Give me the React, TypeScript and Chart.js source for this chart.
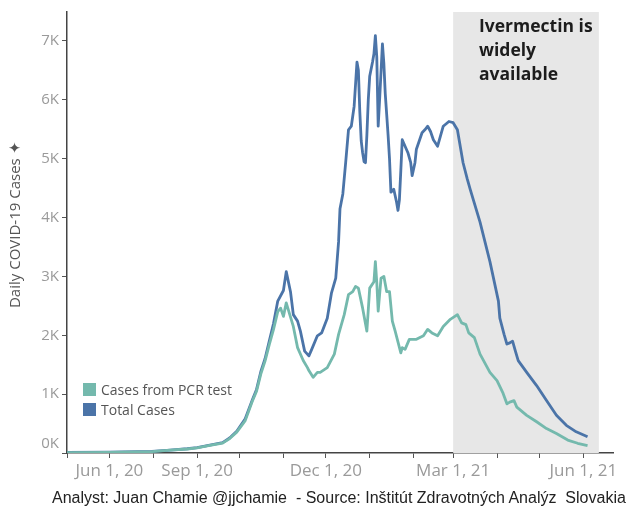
import React, { useEffect, useRef } from "react";
import { Chart, registerables } from "chart.js";

Chart.register(...registerables);

// Days counted from Jun 1, 2020
const totalDays = [0, 30, 60, 73, 85, 92, 101, 110, 115, 120, 126, 131, 134, 137, 140, 143, 146, 149, 153, 155, 158, 160, 163, 165, 168, 171, 173, 177, 180, 184, 187, 190, 192, 193, 195, 197, 199, 201, 203, 205, 206, 207, 208, 209, 210, 211, 212, 213, 214, 216, 217, 218, 219, 220, 221, 223, 224, 225, 226, 227, 228, 229, 231, 233, 234, 235, 236, 237, 239, 241, 243, 244, 246, 247, 251, 253, 255, 257, 259, 262, 264, 266, 270, 273, 276, 278, 280, 283, 285, 292, 299, 305, 306, 309, 311, 313, 315, 317, 319, 325, 332, 339, 346, 353, 360, 368];
const totalCases = [10, 15, 28, 50, 72, 92, 135, 175, 255, 370, 580, 900, 1080, 1380, 1600, 1900, 2200, 2580, 2760, 3080, 2740, 2350, 2240, 2070, 1730, 1650, 1760, 1990, 2040, 2290, 2720, 2970, 3590, 4150, 4400, 4930, 5490, 5550, 5890, 6640, 6500, 5800, 5300, 5100, 4950, 4930, 5400, 6000, 6400, 6640, 6780, 7090, 6730, 5550, 6000, 6950, 6620, 6100, 5750, 5400, 5000, 4430, 4480, 4260, 4120, 4300, 4800, 5320, 5210, 5100, 4930, 4710, 4930, 5160, 5440, 5490, 5550, 5460, 5320, 5210, 5380, 5550, 5630, 5610, 5490, 5210, 4930, 4650, 4480, 3920, 3250, 2580, 2290, 2015, 1850, 1870, 1900, 1730, 1570, 1370, 1145, 890, 640, 470, 360, 275];

const pcrDays = [0, 30, 60, 73, 85, 92, 101, 110, 115, 120, 126, 131, 134, 137, 140, 143, 146, 149, 151, 153, 155, 160, 163, 167, 170, 171, 174, 177, 179, 184, 189, 192, 196, 199, 202, 204, 206, 209, 212, 214, 217, 218, 219, 220, 222, 224, 226, 228, 230, 232, 236, 237, 239, 242, 247, 252, 255, 258, 262, 266, 271, 276, 279, 282, 284, 288, 292, 299, 304, 308, 311, 313, 316, 318, 325, 332, 339, 346, 354, 361, 368];
const pcrCases = [8, 12, 25, 48, 68, 88, 130, 168, 245, 355, 550, 880, 1050, 1340, 1560, 1840, 2100, 2400, 2460, 2320, 2550, 2150, 1790, 1570, 1450, 1400, 1285, 1370, 1370, 1450, 1680, 2015, 2350, 2690, 2740, 2830, 2800, 2460, 2070, 2800, 2910, 3250, 2900, 2410, 2970, 3000, 2740, 2740, 2240, 2070, 1700, 1790, 1760, 1930, 1930, 1990, 2100, 2040, 1990, 2150, 2270, 2350, 2210, 2180, 2040, 1960, 1680, 1370, 1230, 1030, 835, 865, 890, 780, 640, 530, 415, 330, 220, 165, 125];

const monthTickDays = [0, 30, 61, 92, 122, 153, 183, 214, 245, 273, 304, 334, 365];
const xLabelDays = [30, 92, 183, 273, 365];
const xLabels = ["Jun 1, 20", "Sep 1, 20", "Dec 1, 20", "Mar 1, 21", "Jun 1, 21"];
const yTickValues = [0, 1000, 2000, 3000, 4000, 5000, 6000, 7000];
const xMinDay = 0;
const xMaxDay = 386;
const yMaxValue = 7490;
const shadeFromDay = 273;
const shadeToDay = 376;

const seriesNames = ["Cases from PCR test", "Total Cases"];
const seriesColors = ["#74b9ad", "#4b74a8"];

const shadePlugin = {
  id: "shade",
  beforeDatasetsDraw(chart: any) {
    const { ctx, chartArea, scales } = chart;
    const x0 = scales.x.getPixelForValue(shadeFromDay);
    const x1 = scales.x.getPixelForValue(shadeToDay);
    ctx.save();
    ctx.fillStyle = "#e7e7e7";
    ctx.fillRect(x0, chartArea.top, x1 - x0, chartArea.bottom - chartArea.top);
    ctx.restore();
  },
};

export default function App() {
  const canvasRef = useRef<HTMLCanvasElement | null>(null);

  useEffect(() => {
    const canvas = canvasRef.current;
    if (!canvas) return;
    const chart = new Chart(canvas, {
      type: "line",
      data: {
        datasets: [
          {
            label: seriesNames[0],
            data: pcrDays.map((d, i) => ({ x: d, y: pcrCases[i] })),
            borderColor: seriesColors[0],
            backgroundColor: seriesColors[0],
            borderWidth: 2.8,
            pointRadius: 0,
            tension: 0,
            borderJoinStyle: "round",
          },
          {
            label: seriesNames[1],
            data: totalDays.map((d, i) => ({ x: d, y: totalCases[i] })),
            borderColor: seriesColors[1],
            backgroundColor: seriesColors[1],
            borderWidth: 2.8,
            pointRadius: 0,
            tension: 0,
            borderJoinStyle: "round",
          },
        ],
      },
      options: {
        responsive: false,
        animation: false,
        devicePixelRatio: 1,
        layout: { padding: { top: 8, right: 16, bottom: 25, left: 0 } },
        plugins: { legend: { display: false }, tooltip: { enabled: false } },
        scales: {
          x: {
            type: "linear",
            min: xMinDay,
            max: xMaxDay,
            afterBuildTicks: (s: any) => {
              s.ticks = monthTickDays.map((v) => ({ value: v }));
            },
            afterFit: (s: any) => {
              s.height = 30;
            },
            ticks: {
              autoSkip: false,
              maxRotation: 0,
              minRotation: 0,
              padding: 3,
              color: "#9a9a9a",
              font: { family: '"Open Sans"', size: 17 },
              callback: (v: any) => {
                const i = xLabelDays.indexOf(v);
                return i >= 0 ? xLabels[i] : "";
              },
            },
            grid: { drawOnChartArea: false, drawTicks: true, tickLength: 5, color: "#555", lineWidth: 1 },
            border: { display: true, color: "#444", width: 1.5 },
          },
          y: {
            min: 0,
            max: yMaxValue,
            afterBuildTicks: (s: any) => {
              s.ticks = yTickValues.map((v) => ({ value: v }));
            },
            afterFit: (s: any) => {
              s.width = 67;
            },
            ticks: {
              padding: 3,
              color: "#9a9a9a",
              font: { family: '"Open Sans"', size: 15 },
              callback: (v: any) => (v === 0 ? ["0K", ""] : v / 1000 + "K"),
            },
            grid: { drawOnChartArea: false, drawTicks: true, tickLength: 5, color: "#555", lineWidth: 1 },
            border: { display: true, color: "#444", width: 1.5 },
            title: {
              display: true,
              text: "    Daily COVID-19 Cases \u2726",
              color: "#555",
              font: { family: '"Open Sans"', size: 15 },
              padding: { top: 7, bottom: 0 },
            },
          },
        },
      },
      plugins: [shadePlugin],
    } as any);
    return () => chart.destroy();
  }, []);

  return (
    <div
      style={{
        position: "fixed",
        left: 0,
        top: 0,
        width: 629,
        height: 508,
        overflow: "hidden",
        background: "#fff",
      }}
    >
      <canvas ref={canvasRef} width={629} height={508} style={{ display: "block" }} />
      <div
        style={{
          position: "absolute",
          left: 479,
          top: 13,
          fontFamily: '"Open Sans", sans-serif',
          fontWeight: 700,
          fontSize: 17.5,
          lineHeight: "24px",
          color: "#1c1c1c",
        }}
      >
        <div>Ivermectin is</div>
        <div>widely</div>
        <div>available</div>
      </div>
      <div
        style={{
          position: "absolute",
          left: 83,
          top: 379,
          fontFamily: '"Open Sans", sans-serif',
          fontSize: 14,
          color: "#555",
        }}
      >
        {seriesNames.map((n, i) => (
          <div key={n} style={{ display: "flex", alignItems: "center", height: 20 }}>
            <span style={{ width: 13, height: 13, background: seriesColors[i], display: "inline-block", marginRight: 5 }} />
            <span>{n}</span>
          </div>
        ))}
      </div>
      <div
        style={{
          position: "absolute",
          left: 52,
          top: 489,
          fontFamily: '"Liberation Sans", Arial, sans-serif',
          fontSize: 16,
          lineHeight: "18px",
          color: "#222",
          whiteSpace: "pre",
        }}
      >
        {"Analyst: Juan Chamie @jjchamie  - Source: Inštitút Zdravotných Analýz  Slovakia"}
      </div>
    </div>
  );
}
